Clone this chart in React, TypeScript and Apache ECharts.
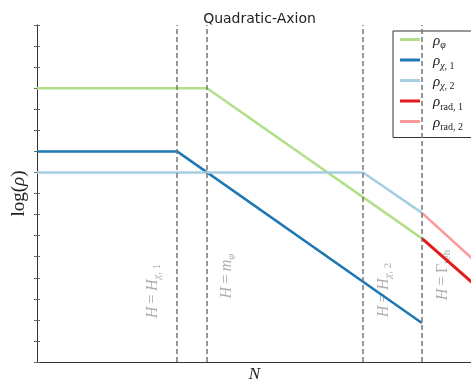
import React, { useEffect, useRef } from "react";
import * as echarts from "echarts";

// N (e-folds) and log(rho) break points
const phiN = [0, 5.67, 12.83];
const phiRho = [13, 13, 5.87];
const chi1N = [0, 4.67, 12.83];
const chi1Rho = [10, 10, 1.85];
const chi2N = [0, 10.87, 12.83];
const chi2Rho = [9, 9, 7.08];
const rad1N = [12.83, 14.5];
const rad1Rho = [5.87, 3.78];
const rad2N = [12.83, 14.5];
const rad2Rho = [7.08, 4.92];

const seriesKeys = ["phi", "chi1", "chi2", "rad1", "rad2"];
const seriesColors = ["#b2df8a", "#1f78b4", "#a6cee3", "#e31a1c", "#fb9a99"];
const legendTexts: Record<string, string> = {
  phi: "{r|ρ}{s|φ}",
  chi1: "{r|ρ}{s|χ}{su|, 1}",
  chi2: "{r|ρ}{s|χ}{su|, 2}",
  rad1: "{r|ρ}{su|rad, 1}",
  rad2: "{r|ρ}{su|rad, 2}",
};

const transitionN = [4.67, 5.67, 10.87, 12.83];
const transitionLabels = [
  "{i|H} {n|=} {i|H}{s|χ}{su|, 1}",
  "{i|H} {n|=} {i|m}{s|φ}",
  "{i|H} {n|=} {i|H}{s|χ}{su|, 2}",
  "{i|H} {n|=} {n|Γ}{su|reh}",
];
const labelN = [3.8, 6.27, 11.5, 13.47];
const labelRho = [3.37, 4.08, 3.42, 4.13];

const titleText = "Quadratic-Axion";

const zip = (xs: number[], ys: number[]) => xs.map((x, i) => [x, ys[i]]);

const SERIF = "'Liberation Serif', 'DejaVu Serif', serif";

export default function App() {
  const ref = useRef<HTMLDivElement>(null);
  useEffect(() => {
    if (!ref.current) return;
    const chart = echarts.init(ref.current, null, { renderer: "svg" });
    const dataSets = [
      zip(phiN, phiRho),
      zip(chi1N, chi1Rho),
      zip(chi2N, chi2Rho),
      zip(rad1N, rad1Rho),
      zip(rad2N, rad2Rho),
    ];
    const lineSeries = seriesKeys.map((k, i) => ({
      name: k,
      type: "line",
      data: dataSets[i],
      symbol: "none",
      z: 3,
      lineStyle: { color: seriesColors[i], width: i === 3 ? 3 : 2.5 },
      itemStyle: { color: seriesColors[i] },
      silent: true,
    }));
    const richSub = {
      r: { fontFamily: SERIF, fontStyle: "italic", fontSize: 15, lineHeight: 20, color: "#222" },
      s: { fontFamily: SERIF, fontStyle: "italic", fontSize: 10, lineHeight: 11, verticalAlign: "bottom", color: "#222" },
      su: { fontFamily: SERIF, fontSize: 10, lineHeight: 11, verticalAlign: "bottom", color: "#222" },
    };
    const labelGray = "#999999";
    const richLabel = {
      i: { fontFamily: SERIF, fontStyle: "italic", fontSize: 16, lineHeight: 20, color: labelGray },
      n: { fontFamily: SERIF, fontSize: 16, lineHeight: 20, color: labelGray },
      s: { fontFamily: SERIF, fontStyle: "italic", fontSize: 11, lineHeight: 11, verticalAlign: "bottom", color: labelGray },
      su: { fontFamily: SERIF, fontSize: 11, lineHeight: 11, verticalAlign: "bottom", color: labelGray },
    };
    chart.setOption({
      animation: false,
      title: {
        text: titleText,
        left: 254.5,
        textAlign: "center",
        top: 6,
        textStyle: { fontFamily: "'DejaVu Sans', sans-serif", fontSize: 14, fontWeight: "normal", color: "#222" },
      },
      grid: { left: 37, top: 25, width: 435, height: 337, outerBoundsMode: "none", containLabel: false },
      legend: {
        data: seriesKeys,
        left: 393,
        top: 31,
        orient: "vertical",
        icon: "rect",
        itemWidth: 20,
        itemHeight: 3,
        itemGap: 3,
        padding: [1, 30, 6, 7],
        borderColor: "#333",
        borderWidth: 1,
        borderRadius: 0,
        backgroundColor: "#fff",
        formatter: (name: string) => legendTexts[name],
        textStyle: { padding: [0, 0, 0, 8], rich: richSub },
      },
      xAxis: [
        {
          type: "value",
          min: 0,
          max: 14.5,
          name: "N",
          nameLocation: "middle",
          nameGap: 11,
          nameTextStyle: { fontFamily: SERIF, fontStyle: "italic", fontSize: 17, lineHeight: 14, color: "#222", verticalAlign: "middle" },
          axisLine: { show: true, lineStyle: { color: "#333", width: 1 } },
          axisTick: { show: false },
          axisLabel: { show: false },
          splitLine: { show: false },
        },
        {
          type: "value",
          position: "top",
          min: 0,
          max: 14.5,
          axisLine: { show: true, lineStyle: { color: "#333", width: 1 } },
          axisTick: { show: false },
          axisLabel: { show: false },
          splitLine: { show: false },
        },
      ],
      yAxis: [
        {
          type: "value",
          min: 0,
          max: 16,
          interval: 1,
          name: "{n|log(}{i|ρ}{n|)}",
          nameLocation: "middle",
          nameGap: 10,
          nameTextStyle: {
            rich: {
              n: { fontFamily: SERIF, fontSize: 19, color: "#222" },
              i: { fontFamily: SERIF, fontStyle: "italic", fontSize: 19, color: "#222" },
            },
          },
          axisLine: { show: true, lineStyle: { color: "#333", width: 1 } },
          axisTick: { show: true, inside: true, length: 3, lineStyle: { color: "#666" } },
          axisLabel: { show: false },
          splitLine: { show: false },
        },
        {
          type: "value",
          position: "right",
          min: 0,
          max: 16,
          interval: 1,
          axisLine: { show: true, lineStyle: { color: "#333", width: 1 } },
          axisTick: { show: true, inside: true, length: 3, lineStyle: { color: "#666" } },
          axisLabel: { show: false },
          splitLine: { show: false },
        },
      ],
      series: [
        {
          name: "transitions",
          type: "line",
          data: [],
          z: 2,
          silent: true,
          markLine: {
            silent: true,
            symbol: ["none", "none"],
            label: { show: false },
            lineStyle: { color: "#777", width: 1.5, type: [5, 3] },
            data: transitionN.map((n) => ({ xAxis: n })),
          },
        },
        {
          name: "labels",
          type: "scatter",
          symbolSize: 0,
          z: 1,
          silent: true,
          data: zip(labelN, labelRho),
          label: {
            show: true,
            position: "inside",
            rotate: 90,
            formatter: (p: any) => transitionLabels[p.dataIndex],
            rich: richLabel,
          },
        },
        ...lineSeries,
      ],
    });
    return () => chart.dispose();
  }, []);
  return <div ref={ref} style={{ position: "fixed", left: 0, top: 0, width: 471, height: 383 }} />;
}
